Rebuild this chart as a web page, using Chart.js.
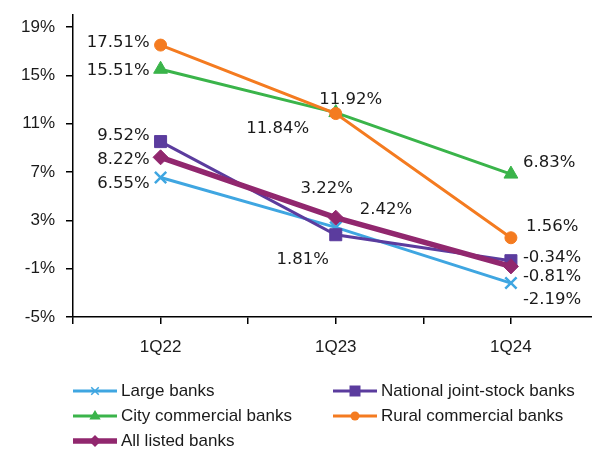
<!DOCTYPE html>
<html><head><meta charset="utf-8">
<script src="https://cdn.jsdelivr.net/npm/chart.js@4.4.1/dist/chart.umd.min.js"></script>
<style>
html,body{margin:0;padding:0;background:#fff;overflow:hidden;width:592px;height:449px}
#wrap{position:absolute;left:0;top:0;width:660px;height:449px}
</style>
</head><body><div id="wrap"><canvas id="c" width="600" height="449"></canvas></div>
<script>
// ---- data ----
const categories = ['1Q22', '1Q23', '1Q24'];
const largeBanks = [6.55, 2.42, -2.19];
const nationalJointStockBanks = [9.52, 1.81, -0.34];
const cityCommercialBanks = [15.51, 11.92, 6.83];
const ruralCommercialBanks = [17.51, 11.84, 1.56];
const allListedBanks = [8.22, 3.22, -0.81];
const yTicks = [-5, -1, 3, 7, 11, 15, 19];

// label placement relative to each point: [align, dx, dy]
const labelPos = {
  large: [['right', -11, 6], ['left', 24, -18], ['left', 12, 17]],
  national: [['right', -11, -6], ['center', -33, 25], ['left', 12, -3]],
  city: [['right', -11, 1], ['center', 15, -13], ['left', 12, -11]],
  rural: [['right', -11, -2], ['center', -58, 15], ['left', 15, -11]],
  all: [['right', -11, 2], ['center', -9, -29], ['left', 12, 10]]
};

const TEXT = '#1a1a1a';
const AXIS_FONT = {family: 'Liberation Sans, Arial, sans-serif', size: 17};
const toXY = arr => arr.map((v, i) => ({x: i, y: v}));

const series = [
  {label: 'Large banks', data: largeBanks, color: '#3FA6E1', style: 'crossRot', r: 8, bw: 2.5, lw: 3, lp: labelPos.large, lr: 5},
  {label: 'National joint-stock banks', data: nationalJointStockBanks, color: '#5B3C9E', style: 'rect', r: 8.5, bw: 1, lw: 3, lp: labelPos.national, lr: 5.5},
  {label: 'City commercial banks', data: cityCommercialBanks, color: '#3AB44A', style: 'triangle', r: 8, bw: 1, lw: 3, lp: labelPos.city, lr: 6},
  {label: 'Rural commercial banks', data: ruralCommercialBanks, color: '#F47B20', style: 'circle', r: 6, bw: 1, lw: 3, lp: labelPos.rural, lr: 4.5},
  {label: 'All listed banks', data: allListedBanks, color: '#91276E', style: 'rectRot', r: 7.5, bw: 1, lw: 5.5, lp: labelPos.all, lr: 6}
];

const datasets = series.map((s, i) => ({
  label: s.label,
  data: toXY(s.data),
  borderColor: s.color,
  backgroundColor: s.color,
  borderWidth: s.lw,
  pointStyle: s.style,
  pointRadius: s.r,
  pointBorderWidth: s.bw,
  pointBorderColor: s.color,
  pointBackgroundColor: s.color,
  tension: 0,
  order: series.length - i,
  labelPos: s.lp,
  legendR: s.lr
}));

const dataLabels = {
  id: 'dataLabels',
  afterDatasetsDraw(chart) {
    const ctx = chart.ctx;
    ctx.save();
    ctx.font = '16.5px "DejaVu Sans", Verdana, sans-serif';
    ctx.fillStyle = TEXT;
    ctx.textBaseline = 'middle';
    chart.data.datasets.forEach((ds, i) => {
      const meta = chart.getDatasetMeta(i);
      meta.data.forEach((pt, j) => {
        const p = ds.labelPos[j];
        ctx.textAlign = p[0];
        ctx.fillText(ds.data[j].y.toFixed(2) + '%', pt.x + p[1], pt.y + p[2]);
      });
    });
    ctx.restore();
  }
};

function drawMarker(ctx, style, x, y, r) {
  ctx.beginPath();
  if (style === 'circle') { ctx.arc(x, y, r, 0, Math.PI * 2); ctx.fill(); }
  else if (style === 'rect') { ctx.rect(x - r, y - r, 2 * r, 2 * r); ctx.fill(); }
  else if (style === 'rectRot') { ctx.moveTo(x, y - r); ctx.lineTo(x + r, y); ctx.lineTo(x, y + r); ctx.lineTo(x - r, y); ctx.closePath(); ctx.fill(); }
  else if (style === 'triangle') { ctx.moveTo(x, y - r); ctx.lineTo(x + r * 0.95, y + r * 0.6); ctx.lineTo(x - r * 0.95, y + r * 0.6); ctx.closePath(); ctx.fill(); }
  else if (style === 'crossRot') { const d = r * 0.75; ctx.lineWidth = 1.5; ctx.moveTo(x - d, y - d); ctx.lineTo(x + d, y + d); ctx.moveTo(x + d, y - d); ctx.lineTo(x - d, y + d); ctx.stroke(); }
}

const customLegend = {
  id: 'customLegend',
  afterDraw(chart) {
    const ctx = chart.ctx;
    const left = chart.chartArea.left;
    const cols = [left, left + 260];
    const rows = [391, 416, 441];
    ctx.save();
    ctx.font = '17px "Liberation Sans", Arial, sans-serif';
    ctx.textBaseline = 'middle';
    ctx.textAlign = 'left';
    chart.data.datasets.forEach((ds, i) => {
      const x0 = cols[i % 2], y = rows[Math.floor(i / 2)];
      ctx.strokeStyle = ds.borderColor;
      ctx.fillStyle = ds.borderColor;
      ctx.lineWidth = ds.borderWidth;
      ctx.beginPath(); ctx.moveTo(x0, y); ctx.lineTo(x0 + 44, y); ctx.stroke();
      drawMarker(ctx, ds.pointStyle, x0 + 22, y, ds.legendR);
      ctx.fillStyle = TEXT;
      ctx.fillText(ds.label, x0 + 48, y);
    });
    ctx.restore();
  }
};

const zeroPad = s => { s.paddingTop = 0; s.paddingBottom = 0; s.paddingLeft = 0; s.paddingRight = 0; };

const chart = new Chart(document.getElementById('c'), {
  type: 'line',
  data: {datasets},
  plugins: [dataLabels, customLegend],
  options: {
    responsive: false,
    maintainAspectRatio: false,
    devicePixelRatio: 1,
    animation: false,
    layout: {padding: {top: 15, right: 2, left: 0, bottom: 0}},
    plugins: {legend: {display: false}, tooltip: {enabled: false}},
    scales: {
      x: {
        type: 'linear', min: -0.5, max: 2.5,
        afterBuildTicks: s => { s.ticks = [-0.5, 0, 0.5, 1, 1.5, 2, 2.5].map(v => ({value: v})); },
        afterFit: s => { s.height = 132; zeroPad(s); },
        ticks: {
          callback: v => Number.isInteger(v) ? categories[v] : '',
          autoSkip: false, maxRotation: 0, font: AXIS_FONT, color: TEXT, padding: 13
        },
        grid: {drawOnChartArea: false, drawTicks: true, tickLength: 7, color: '#000', lineWidth: 1.5},
        border: {color: '#000', width: 1.5}
      },
      y: {
        type: 'linear', min: -5, max: 20,
        afterBuildTicks: s => { s.ticks = yTicks.map(v => ({value: v})); },
        afterFit: s => { s.width = 73; zeroPad(s); },
        ticks: {callback: v => v + '%', font: AXIS_FONT, color: TEXT, padding: 11},
        grid: {drawOnChartArea: false, drawTicks: true, tickLength: 7, color: '#000', lineWidth: 1.5},
        border: {color: '#000', width: 1.5}
      }
    }
  }
});

// widen the canvas so the plot area's right edge lands at x = 598 (the reference plot runs past the window edge)
for (let k = 0; k < 2; k++) {
  const gap = chart.width - chart.chartArea.right;
  const want = Math.round(598 + gap);
  if (want !== chart.width) chart.resize(want, 449);
}
</script></body></html>
